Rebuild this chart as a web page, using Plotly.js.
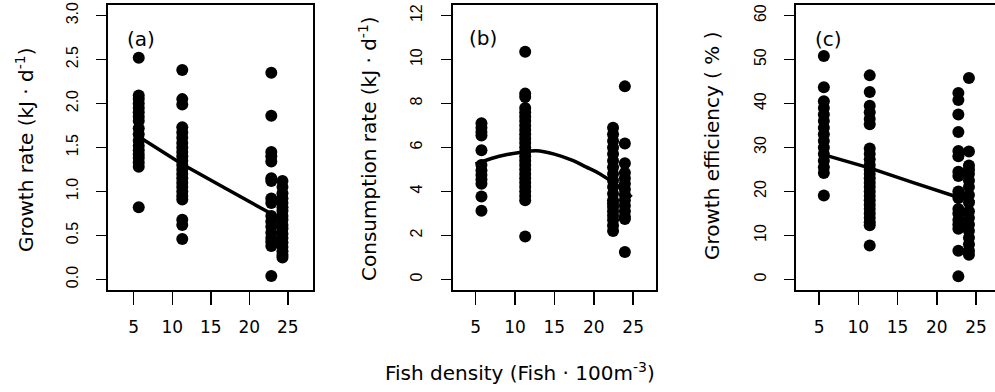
<!DOCTYPE html>
<html>
<head>
<meta charset="utf-8">
<script src="https://cdn.plot.ly/plotly-3.0.1.min.js"></script>
<style>html,body{margin:0;padding:0;background:#fff;}#chart{width:995px;height:392px;}</style>
</head>
<body>
<div id="chart"></div>
<script>
// ---- data ----
const densA = [5.65, 11.3, 22.85, 24.3];
const densB = [5.75, 11.3, 22.45, 23.95];
const densC = [5.6, 11.45, 22.75, 24.1];

const growthG1 = [2.52, 2.09, 2.05, 2.0, 1.95, 1.9, 1.85, 1.8, 1.72, 1.65, 1.58, 1.52, 1.47, 1.42, 1.38, 1.33, 1.28, 0.82];
const growthG2 = [2.38, 2.05, 1.99, 1.73, 1.67, 1.61, 1.55, 1.5, 1.45, 1.4, 1.35, 1.3, 1.25, 1.2, 1.15, 1.1, 1.05, 1.0, 0.95, 0.91, 0.68, 0.62, 0.46];
const growthG3 = [2.35, 1.86, 1.45, 1.40, 1.34, 1.15, 1.12, 0.92, 0.87, 0.72, 0.66, 0.6, 0.53, 0.47, 0.43, 0.38, 0.04];
const growthG4 = [1.12, 1.05, 0.98, 0.92, 0.87, 0.82, 0.78, 0.72, 0.68, 0.62, 0.58, 0.52, 0.47, 0.42, 0.37, 0.32, 0.28, 0.25];

const consG1 = [7.1, 6.9, 6.7, 6.55, 5.88, 5.2, 4.95, 4.75, 4.55, 4.35, 3.77, 3.12];
const consG2 = [10.35, 8.45, 8.3, 7.8, 7.6, 7.4, 7.2, 7.0, 6.8, 6.6, 6.4, 6.2, 6.0, 5.8, 5.6, 5.4, 5.2, 5.0, 4.8, 4.6, 4.4, 4.2, 4.0, 3.8, 3.6, 1.95];
const consG3 = [6.9, 6.6, 6.3, 6.0, 5.7, 5.4, 5.1, 4.8, 4.5, 4.2, 3.9, 3.6, 3.45, 3.3, 3.1, 2.9, 2.7, 2.45, 2.2];
const consG4 = [8.78, 6.18, 5.28, 4.85, 4.6, 4.35, 4.1, 3.85, 3.6, 3.35, 3.1, 2.85, 2.75, 1.25];

const effG1 = [50.8, 43.7, 40.5, 39, 37.5, 36, 34.5, 33, 31.5, 30, 28.5, 27, 25.5, 24.2, 19.1];
const effG2 = [46.4, 42.6, 39.5, 38, 36.5, 35.3, 29.8, 28.5, 27.3, 26, 25, 24, 23, 22, 21, 20, 19, 18, 17, 16, 15, 14, 13, 12.3, 7.7];
const effG3 = [42.4, 40.8, 37.5, 33.5, 29.2, 28, 24.5, 23.5, 20, 18.5, 16, 15, 13.5, 12.5, 11.5, 6.5, 0.7];
const effG4 = [45.8, 29.1, 25.9, 25, 24, 22.5, 21, 19.2, 17.5, 15.5, 14, 12.5, 11, 9.5, 8, 6.5, 5.6];

const fitAx = [5.0, 11.3, 17, 22.8, 24.6];
const fitAy = [1.66, 1.31, 1.03, 0.75, 0.65];
const fitBx = [5.0, 7, 9, 10.6, 12.7, 15, 17.4, 19, 20.8, 23.3, 24.8];
const fitBy = [5.25, 5.5, 5.68, 5.77, 5.85, 5.7, 5.4, 5.12, 4.8, 4.2, 3.75];
const fitCx = [5.1, 11.5, 17, 22.7, 24.8];
const fitCy = [28.6, 25.3, 22.0, 18.7, 17.7];

const xTicks = [5, 10, 15, 20, 25];
const panelLabels = ['(a)', '(b)', '(c)'];
const yTitles = ['Growth rate (kJ · d<sup>-1</sup>)', 'Consumption rate (kJ · d<sup>-1</sup>)', 'Growth efficiency ( % )'];
const xTitle = 'Fish density (Fish · 100m<sup>-3</sup>)';

// ---- build ----
function pts(dens, groups) {
  const x = [], y = [];
  groups.forEach((g, i) => g.forEach(v => { x.push(dens[i]); y.push(v); }));
  return {x, y};
}
const pA = pts(densA, [growthG1, growthG2, growthG3, growthG4]);
const pB = pts(densB, [consG1, consG2, consG3, consG4]);
const pC = pts(densC, [effG1, effG2, effG3, effG4]);

const mk = {color: '#000', size: 12, line: {width: 0}};
const ln = {color: '#000', width: 3.5};
const data = [
  {x: pA.x, y: pA.y, xaxis: 'x', yaxis: 'y', mode: 'markers', type: 'scatter', marker: mk, hoverinfo: 'none'},
  {x: fitAx, y: fitAy, xaxis: 'x', yaxis: 'y', mode: 'lines', type: 'scatter', line: ln},
  {x: pB.x, y: pB.y, xaxis: 'x2', yaxis: 'y2', mode: 'markers', type: 'scatter', marker: mk},
  {x: fitBx, y: fitBy, xaxis: 'x2', yaxis: 'y2', mode: 'lines', type: 'scatter', line: Object.assign({shape: 'spline'}, ln)},
  {x: pC.x, y: pC.y, xaxis: 'x3', yaxis: 'y3', mode: 'markers', type: 'scatter', marker: mk},
  {x: fitCx, y: fitCy, xaxis: 'x3', yaxis: 'y3', mode: 'lines', type: 'scatter', line: ln}
];

const W = 995;
const tickX = {family: 'DejaVu Sans', size: 17, color: '#000'};
const tickY = {family: 'Liberation Sans, Arial', size: 16, color: '#000'};
function xa(d0, d1, range, anchor, mirror) {
  return {domain: [d0 / W, d1 / W], range: range, anchor: anchor, tickvals: xTicks,
    ticks: 'outside', ticklen: 13, tickwidth: 1.5, tickcolor: '#000',
    showline: true, mirror: mirror, linewidth: 2, linecolor: '#000',
    showgrid: false, zeroline: false, tickfont: tickX, ticklabelstandoff: 8, fixedrange: true};
}
function ya(range, dtick, fmt, anchor, mirror) {
  return {domain: [0, 1], range: range, anchor: anchor, tick0: 0, dtick: dtick, tickformat: fmt,
    tickangle: -90, ticks: 'outside', ticklen: 10, tickwidth: 1.5, tickcolor: '#000',
    showline: true, mirror: mirror, linewidth: 2, linecolor: '#000',
    showgrid: false, zeroline: false, tickfont: tickY, ticklabelstandoff: 12, fixedrange: true};
}

const H0 = 290, PH = 285;
function py(p) { return (H0 - p) / PH; }
const titleFont = {family: 'DejaVu Sans', size: 20, color: '#000'};
const annotations = [
  {text: panelLabels[0], x: 140.5 / W, y: py(39)},
  {text: panelLabels[1], x: 483 / W, y: py(37.5)},
  {text: panelLabels[2], x: 828 / W, y: py(39)},
  {text: yTitles[0], x: 25 / W, y: py(150), textangle: -90},
  {text: yTitles[1], x: 368 / W, y: py(149), textangle: -90},
  {text: yTitles[2], x: 712 / W, y: py(146), textangle: -90},
  {text: xTitle, x: 519.5 / W, y: py(372)}
].map(a => Object.assign({xref: 'paper', yref: 'paper', showarrow: false, xanchor: 'center', yanchor: 'middle', font: titleFont}, a));

const layout = {
  width: 995, height: 392,
  margin: {l: 0, r: 0, t: 5, b: 102, pad: 0},
  paper_bgcolor: '#fff', plot_bgcolor: '#fff',
  showlegend: false,
  xaxis: xa(108.3, 313.3, [1.7, 28.3], 'y', true),
  yaxis: ya([-0.12, 3.12], 0.5, '.1f', 'x', true),
  xaxis2: xa(452.7, 656, [2.1, 27.9], 'y2', true),
  yaxis2: ya([-0.48, 12.48], 2, 'd', 'x2', true),
  xaxis3: xa(796, 995, [2.05, 27.42], 'y3', true),
  yaxis3: ya([-2.4, 62.4], 10, 'd', 'x3', false),
  annotations: annotations
};

Plotly.newPlot('chart', data, layout, {displayModeBar: false, staticPlot: true});
</script>
</body>
</html>
